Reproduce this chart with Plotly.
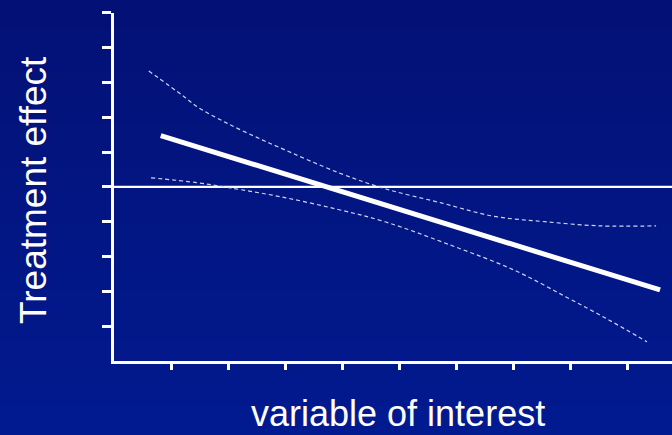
import plotly.graph_objects as go

# Fitted treatment effect (straight line) over the variable of interest
X_FIT = [0.82, 9.58]
Y_FIT = [6.47, 2.04]

# Upper confidence band
X_UPPER = [0.61, 1.23, 1.46, 1.98, 2.60, 2.89, 3.95, 4.77, 5.74, 6.65, 7.56, 8.53, 9.51]
Y_UPPER = [8.33, 7.59, 7.30, 6.83, 6.35, 6.14, 5.40, 4.94, 4.54, 4.16, 4.00, 3.88, 3.88]

# Lower confidence band
X_LOWER = [0.65, 1.46, 2.04, 2.91, 3.91, 4.77, 5.90, 7.02, 7.93, 8.68, 9.35]
Y_LOWER = [5.26, 5.12, 4.97, 4.72, 4.36, 3.99, 3.33, 2.61, 1.84, 1.18, 0.55]

# Reference level: no treatment effect
REF_EFFECT = 5

X_TICKS = [1, 2, 3, 4, 5, 6, 7, 8, 9]
Y_TICKS = [1, 2, 3, 4, 5, 6, 7, 8, 9, 10]

W, H = 672, 435
TOP_RGB = (3, 17, 118)
BOTTOM_RGB = (2, 26, 144)

x_left_px = 114
y_top_px, y_bot_px = 12.7, 361
x_max = (W - x_left_px) / 57.0

fig = go.Figure()

# Horizontal reference line across the whole plot width
fig.add_trace(go.Scatter(x=[0, x_max], y=[REF_EFFECT, REF_EFFECT], mode="lines",
                         line=dict(color="white", width=2.2), hoverinfo="skip"))

band_style = dict(color="rgba(215,222,245,0.95)", width=1.2, dash="4px,3px")
fig.add_trace(go.Scatter(x=X_UPPER, y=Y_UPPER, mode="lines", line=band_style,
                         line_shape="spline", hoverinfo="skip"))
fig.add_trace(go.Scatter(x=X_LOWER, y=Y_LOWER, mode="lines", line=band_style,
                         line_shape="spline", hoverinfo="skip"))
fig.add_trace(go.Scatter(x=X_FIT, y=Y_FIT, mode="lines",
                         line=dict(color="white", width=5), hoverinfo="skip"))

# Vertical background gradient drawn as thin bands
n_bands = 60
for i in range(n_bands):
    t = i / (n_bands - 1)
    r, g, b = (round(TOP_RGB[k] + (BOTTOM_RGB[k] - TOP_RGB[k]) * t) for k in range(3))
    fig.add_shape(type="rect", xref="paper", yref="paper",
                  x0=0, x1=1, y0=1 - (i + 1) / n_bands - 0.002, y1=1 - i / n_bands,
                  fillcolor=f"rgb({r},{g},{b})", line=dict(width=0), layer="below")

fig.update_layout(
    width=W, height=H,
    margin=dict(l=0, r=0, t=0, b=0),
    paper_bgcolor="rgb(3,20,128)",
    plot_bgcolor="rgba(0,0,0,0)",
    showlegend=False,
    xaxis=dict(
        domain=[x_left_px / W, 1],
        range=[0, x_max],
        showgrid=False, zeroline=False,
        showline=True, linecolor="white", linewidth=3,
        ticks="outside", tickvals=X_TICKS, ticklen=6, tickwidth=3, tickcolor="white",
        showticklabels=False,
    ),
    yaxis=dict(
        domain=[1 - y_bot_px / H, 1 - y_top_px / H],
        range=[0, 10.001],
        showgrid=False, zeroline=False,
        showline=True, linecolor="white", linewidth=3,
        ticks="outside", tickvals=Y_TICKS, ticklen=9, tickwidth=3, tickcolor="white",
        showticklabels=False,
    ),
    font=dict(family="Liberation Sans, Arial, sans-serif", color="white"),
)

fig.add_annotation(text="Treatment effect", xref="paper", yref="paper",
                   x=33 / W, y=1 - 190 / H, textangle=-90, showarrow=False,
                   xanchor="center", yanchor="middle",
                   font=dict(size=37, color="white"))
fig.add_annotation(text="variable of interest", xref="paper", yref="paper",
                   x=398 / W, y=1 - 413 / H, showarrow=False,
                   xanchor="center", yanchor="middle", borderpad=0,
                   font=dict(size=36, color="white"))

fig.write_html("out.html")
